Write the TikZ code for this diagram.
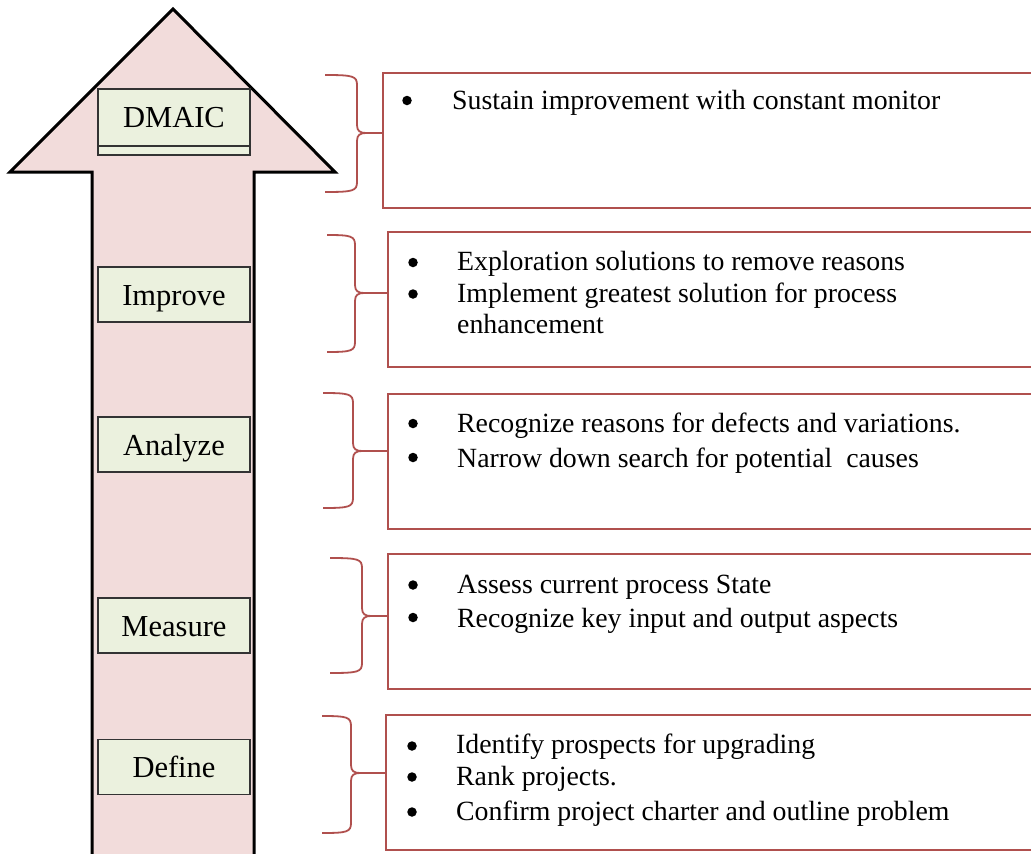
\documentclass[tikz,border=0pt]{standalone}
\usepackage{fontspec}
\setmainfont{Liberation Serif}
\definecolor{arrowpink}{HTML}{F2DCDB}
\definecolor{stagegreen}{HTML}{EBF1DE}
\definecolor{boxred}{HTML}{B0504E}
% right curly brace: left end x, spine x, tip x, top y, middle y, bottom y
\newcommand\stagebrace[6]{%
  \draw[curly] (#1,#4) .. controls (#2-4,#4) and (#2,#4+1) .. (#2,#4+10)
    -- (#2,#5-8) .. controls (#2,#5-2) and (#2+3,#5) .. (#2+9,#5) -- (#3,#5)
    (#2+9,#5) .. controls (#2+3,#5) and (#2,#5+2) .. (#2,#5+8)
    -- (#2,#6-10) .. controls (#2,#6-1) and (#2-4,#6) .. (#1,#6);}
\begin{document}
\begin{tikzpicture}[x=1pt,y=-1pt,
  arrowbody/.style={draw=black, line width=3pt, fill=arrowpink, line join=miter},
  stagefont/.style={font=\fontsize{30.5}{36}\selectfont, text height=21pt, text depth=0pt},
  stage/.style={draw=black!80, line width=1.6pt, fill=stagegreen, minimum width=152pt,
    minimum height=55pt, inner sep=0pt, stagefont},
  infobox/.style={draw=boxred, line width=1.6pt, anchor=north west, inner sep=0pt,
    minimum width=670pt, minimum height=135pt},
  curly/.style={draw=boxred, line width=1.8pt},
  item/.style={anchor=base west, inner sep=0pt, font=\fontsize{27.8}{31}\selectfont},
  dot/.style={circle, fill=black, inner sep=0pt, minimum size=9.5pt}]
\useasboundingbox (0,0) rectangle (1031,854);
\clip (0,0) rectangle (1031,854);

% the upward arrow
\draw[arrowbody] (173,9) -- (335,172) -- (254,172) -- (254,870) -- (92,870)
  -- (92,172) -- (10,172) -- cycle;

% stage labels on the arrow
\node[stage, minimum height=66pt] (dmaic) at (174,122) {};
\draw[draw=black!80, line width=1.6pt] (dmaic.west |- 0,146) -- (dmaic.east |- 0,146);
\node[stagefont, inner sep=0pt] (dmaictext) at (174,117) {DMAIC};
\node[stage] (improve) at (174,294.5) {Improve};
\node[stage] (analyze) at (174,444.5) {Analyze};
\node[stage] (measure) at (174,625.5) {Measure};
\node[stage] (define) at (174,767) {Define};

% description boxes
\node[infobox] (control) at (382,72) {};
\node[infobox] (improvebox) at (387,231) {};
\node[infobox] (analyzebox) at (387,393) {};
\node[infobox] (measurebox) at (387,553) {};
\node[infobox] (definebox) at (385,714) {};

% braces joining stages to descriptions
\stagebrace{325}{357}{382}{75}{133}{192}
\stagebrace{327}{355}{387}{235}{293}{352}
\stagebrace{323}{353}{387}{393}{451}{508}
\stagebrace{330}{362}{387}{558}{616}{673}
\stagebrace{322}{351}{385}{716}{773}{833}

% Control
\node[dot] (c1) at (407,100.5) {};
\node[item] (ct1) at (452,109) {Sustain improvement with constant monitor};

% Improve
\node[dot] (i1) at (413,262.5) {};
\node[item] (it1) at (457,270) {Exploration solutions to remove reasons};
\node[dot] (i2) at (413,294) {};
\node[item] (it2) at (457,302) {Implement greatest solution for process};
\node[item] (it3) at (457,333) {enhancement};

% Analyze
\node[dot] (a1) at (413,423.5) {};
\node[item] (at1) at (457,432) {Recognize reasons for defects and variations.};
\node[dot] (a2) at (413,457.5) {};
\node[item] (at2) at (457,467) {Narrow down search for potential\ \ causes};

% Measure
\node[dot] (m1) at (413,585) {};
\node[item] (mt1) at (457,593) {Assess current process State};
\node[dot] (m2) at (413,617.5) {};
\node[item] (mt2) at (457,627) {Recognize key input and output aspects};

% Define
\node[dot] (d1) at (412,746) {};
\node[item] (dt1) at (456,753) {Identify prospects for upgrading};
\node[dot] (d2) at (412,777) {};
\node[item] (dt2) at (456,785) {Rank projects.};
\node[dot] (d3) at (412,812) {};
\node[item] (dt3) at (456,820) {Confirm project charter and outline problem};
\end{tikzpicture}
\end{document}
